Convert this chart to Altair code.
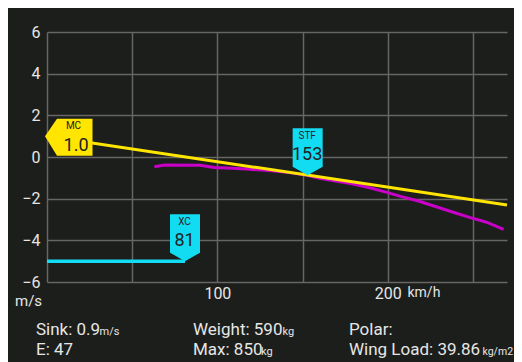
import altair as alt
import pandas as pd

# ---- data ----
polar_speed = [63, 69, 90, 98, 109, 119, 132, 142, 152, 160, 171, 179, 190, 200, 208, 218, 238, 248, 258, 268]
polar_sink = [-0.47, -0.39, -0.40, -0.50, -0.54, -0.59, -0.66, -0.75, -0.87, -1.02, -1.18, -1.28, -1.49, -1.71, -1.90, -2.11, -2.64, -2.90, -3.13, -3.47]

mc_speed = [0, 270]
mc_sink = [1.0, -2.3]

xc_speed = [0, 81]
xc_sink = [-5.0, -5.0]

marker_names = ["MC", "STF", "XC"]
marker_values = ["1.0", "153", "81"]
marker_speed = [0, 153, 81]
marker_sink = [1.0, -0.87, -5.0]

x_ticks = [0, 50, 100, 150, 200, 250]
x_labelled = [100, 200]
y_ticks = [-6, -4, -2, 0, 2, 4, 6]

# ---- styles ----
BG = "#1c1e1b"
GRID = "#666666"
TXT = "#e6e6e6"
YELLOW = "#ffe500"
MAGENTA = "#c800c8"
CYAN = "#12dcf2"
FONT = "Roboto"

polar_df = pd.DataFrame({"speed": polar_speed, "sink": polar_sink})
mc_df = pd.DataFrame({"speed": mc_speed, "sink": mc_sink})
xc_df = pd.DataFrame({"speed": xc_speed, "sink": xc_sink})
marker_df = pd.DataFrame({"name": marker_names, "value": marker_values,
                          "speed": marker_speed, "sink": marker_sink})

xscale = alt.Scale(domain=[0, 270], nice=False, zero=False)
yscale = alt.Scale(domain=[-6, 6], nice=False, zero=False)

label_expr = " || ".join(f"datum.value == {v}" for v in x_labelled)
xaxis = alt.Axis(values=x_ticks, grid=True, gridColor=GRID, gridWidth=1.5, gridOpacity=1,
                 domain=False, ticks=False, labelExpr=f"({label_expr}) ? datum.label : ''",
                 labelFont=FONT, labelFontSize=16, labelColor=TXT, labelPadding=3, title=None,
                 labelFlush=False)
yaxis = alt.Axis(values=y_ticks, grid=True, gridColor=GRID, gridWidth=1.5, gridOpacity=1,
                 domain=False, ticks=False, labelFont=FONT, labelFontSize=16, labelColor=TXT,
                 labelPadding=7, title=None, labelFlush=False)

X = alt.X("speed:Q", scale=xscale, axis=xaxis)
Y = alt.Y("sink:Q", scale=yscale, axis=yaxis)
Xn = alt.X("speed:Q", scale=xscale)
Yn = alt.Y("sink:Q", scale=yscale)

xc_line = alt.Chart(xc_df).mark_line(color=CYAN, strokeWidth=3.5).encode(x=X, y=Y)
polar_line = alt.Chart(polar_df).mark_line(color=MAGENTA, strokeWidth=3).encode(x=Xn, y=Yn)
mc_line = alt.Chart(mc_df).mark_line(color=YELLOW, strokeWidth=3).encode(x=Xn, y=Yn)

MC_SHAPE = "M-2,0 L10,-17.5 L45.5,-17.5 L45.5,19.5 L10,19.5 Z"
DOWN_SHAPE = "M0,0 L-15,-8.5 L-15,-47 L15,-47 L15,-8.5 Z"

base_m = alt.Chart(marker_df)
mc_sym = base_m.transform_filter("datum.name == 'MC'").mark_point(
    shape=MC_SHAPE, size=4, filled=True, fill=YELLOW, opacity=1, strokeWidth=0).encode(x=Xn, y=Yn)
cy_sym = base_m.transform_filter("datum.name != 'MC'").mark_point(
    shape=DOWN_SHAPE, size=4, filled=True, fill=CYAN, opacity=1, strokeWidth=0).encode(x=Xn, y=Yn)

mc_name = base_m.transform_filter("datum.name == 'MC'").mark_text(
    font=FONT, fontSize=10, color="#222222", align="center", baseline="alphabetic", dx=26.5, dy=-7
).encode(x=Xn, y=Yn, text="name:N")
mc_val = base_m.transform_filter("datum.name == 'MC'").mark_text(
    font=FONT, fontSize=18, color="#222222", align="center", baseline="alphabetic", dx=29, dy=14.5
).encode(x=Xn, y=Yn, text="value:N")
cy_name = base_m.transform_filter("datum.name != 'MC'").mark_text(
    font=FONT, fontSize=10, color="#222222", align="center", baseline="alphabetic", dx=-0.5, dy=-36
).encode(x=Xn, y=Yn, text="name:N")
cy_val = base_m.transform_filter("datum.name != 'MC'").mark_text(
    font=FONT, fontSize=18, color="#222222", align="center", baseline="alphabetic", dx=-0.5, dy=-15.5
).encode(x=Xn, y=Yn, text="value:N")

one = pd.DataFrame({"k": [0]})
OX, OY = 47, 32  # plot origin in page pixels


def label(text, px, py, size):
    return alt.Chart(one).mark_text(font=FONT, fontSize=size, color=TXT, align="left",
                                    baseline="alphabetic").encode(
        x=alt.value(px - OX), y=alt.value(py - OY), text=alt.value(text))


annots = [
    label("km/h", 407.5, 297, 14),
    label("m/s", 15, 306, 15),
    label("Sink: 0.9", 36, 334.5, 17),
    label("m/s", 99.5, 334.5, 11),
    label("E: 47", 36, 354.5, 17),
    label("Weight: 590", 193, 334.5, 17),
    label("kg", 282.5, 334.5, 11),
    label("Max: 850", 193, 354.5, 17),
    label("kg", 261, 354.5, 11),
    label("Polar:", 349, 334.5, 17),
    label("Wing Load: 39.86", 349, 354.5, 17),
    label("kg/m2", 482.5, 354.5, 10.5),
]

chart = alt.layer(xc_line, polar_line, mc_line, mc_sym, cy_sym, mc_name, mc_val, cy_name, cy_val,
                  *annots).properties(
    width=460, height=250, autosize="none", background=BG,
    padding={"left": 39, "top": 24, "right": 7, "bottom": 80},
).configure_view(stroke=None)

chart.save("out.html", embed_options={"renderer": "svg", "actions": False})
